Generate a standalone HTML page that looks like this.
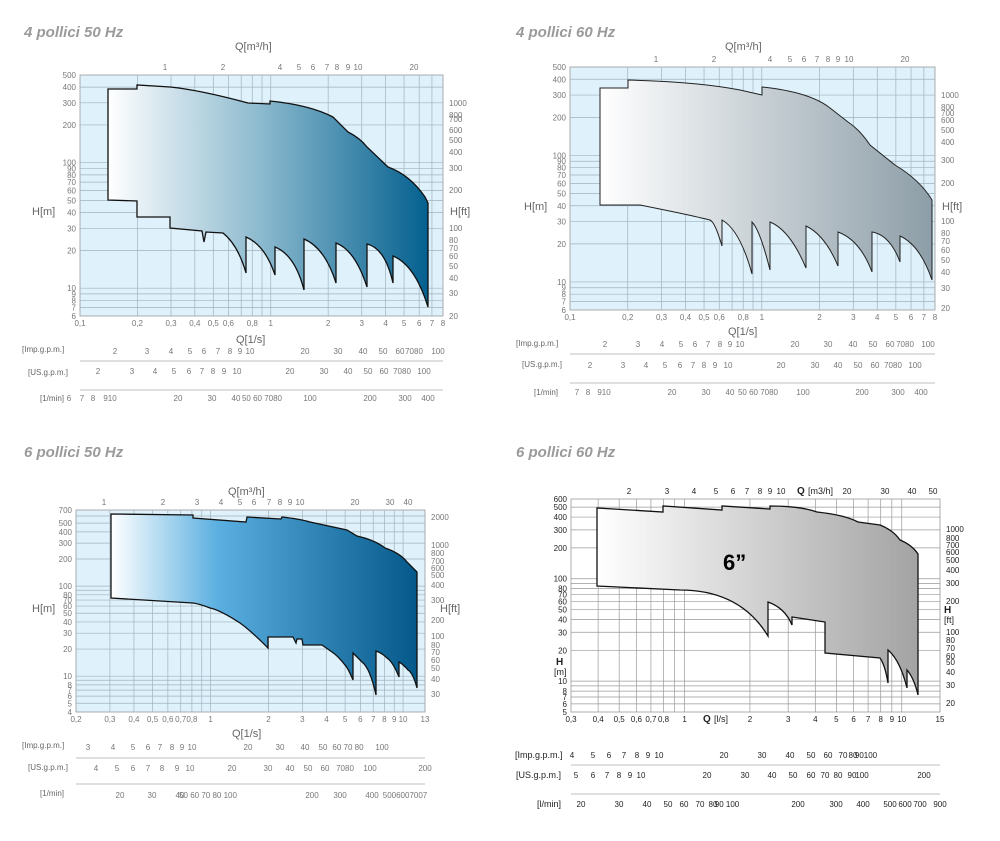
<!DOCTYPE html>
<html><head><meta charset="utf-8">
<style>
html,body{margin:0;padding:0;background:#fff;}
body{width:1000px;height:836px;overflow:hidden;font-family:"Liberation Sans",sans-serif;}
svg text{font-family:"Liberation Sans",sans-serif;}
</style></head>
<body>
<svg id="s" width="1000" height="836" viewBox="0 0 1000 836" xmlns="http://www.w3.org/2000/svg">
<defs>
<linearGradient id="gTL" x1="0" x2="1"><stop offset="0" stop-color="#ffffff"/><stop offset="0.5" stop-color="#86b6cc"/><stop offset="1" stop-color="#04608f"/></linearGradient>
<linearGradient id="gTR" x1="0" x2="1"><stop offset="0" stop-color="#ffffff"/><stop offset="1" stop-color="#8d9ea8"/></linearGradient>
<linearGradient id="gBL" x1="0" x2="1"><stop offset="0" stop-color="#ffffff"/><stop offset="0.35" stop-color="#5aafe0"/><stop offset="1" stop-color="#04598a"/></linearGradient>
<linearGradient id="gBR" x1="0" x2="1"><stop offset="0" stop-color="#ffffff"/><stop offset="1" stop-color="#a3a3a3"/></linearGradient>
</defs>
<g font-style="italic" font-weight="bold" font-size="15" fill="#9a9a9a">
<text x="24" y="37">4 pollici 50 Hz</text>
<text x="516" y="37">4 pollici 60 Hz</text>
<text x="24" y="457">6 pollici 50 Hz</text>
<text x="516" y="457">6 pollici 60 Hz</text>
</g>
<rect x="80" y="75" width="363" height="241" fill="#dff1fb" stroke="#999" stroke-width="0.8"/>
<rect x="570" y="67" width="365" height="243" fill="#dff1fb" stroke="#999" stroke-width="0.8"/>
<rect x="76" y="510" width="349" height="202" fill="#dff1fb" stroke="#999" stroke-width="0.8"/>
<rect x="571" y="499" width="369" height="213" fill="#fff" stroke="#999" stroke-width="0.8"/>
<g id="grid"></g>
<path d="M108,89 L137,89 L137,85 L170,87 Q200,90 248,103 L270,104 L270,101 Q310,105 333,117 L348,132 Q360,138 367,147 L388,167 Q410,175 425,197 L428,203 L428,307 Q415,265 393,256 L393,283 Q385,248 367,244 L367,287 Q355,250 336,243 L336,283 Q325,248 304,239 L304,290 Q295,255 275,247 L275,275 Q265,245 246,237 L246,273 Q238,245 223,233 L206,232 L204,242 L202,231 L170,228 L170,217 L137,217 L137,201 L108,200 Z" fill="url(#gTL)" stroke="#111" stroke-width="1.3"/>
<path d="M600,88 L628,88 L628,80 Q700,82 740,90 L762,95 L762,87 Q810,92 830,108 L848,122 Q860,130 870,145 L895,165 Q920,180 932,200 L932,280 Q920,245 900,236 L900,262 Q890,235 872,232 L872,272 Q860,240 838,232 L838,266 Q825,235 806,226 L806,268 Q790,230 770,222 L770,270 Q760,230 752,222 L752,274 Q740,230 722,220 L722,246 Q715,222 710,220 Q690,215 640,205 L600,205 L600,188 Z" fill="url(#gTR)" stroke="#222" stroke-width="1"/>
<path d="M111,514 L193,515 L193,518 Q220,520 246,522 L247,517 L281,519 L282,517 Q300,519 310,522 L347,530 L357,536 Q375,540 385,548 Q400,553 407,562 L417,572 L417,688 Q413,673 408,670 Q403,664 399,662 L399,677 Q393,662 387,658 Q382,653 376,651 L376,695 Q370,668 362,662 L353,653 L353,680 Q348,668 345,665 Q338,656 332,652 L322,645 L303,645 L302,639 L297,639 L296,643 L293,637 L268,637 L268,648 Q250,630 240,623 Q220,610 210,608 Q200,604 193,603 L111,598 Z" fill="url(#gBL)" stroke="#111" stroke-width="1.3"/>
<path d="M597,508 L663,512 L663,506 L722,510 L722,506 L770,509 L770,506 Q800,506 817,512 Q845,515 858,522 L880,525 Q893,530 900,540 Q912,545 918,554 L918,695 Q914,678 907,670 L907,688 Q900,660 888,650 L888,683 Q885,665 880,658 L825,653 L825,622 L792,617 L792,625 Q785,608 768,602 L768,636 Q740,590 680,590 L597,586 Z" fill="url(#gBR)" stroke="#111" stroke-width="1.3"/>
<text x="723" y="570" font-size="22" font-weight="bold" fill="#000">6”</text>
<g font-size="11" fill="#666">
<text x="235" y="50">Q[m³/h]</text>
<text x="236" y="343">Q[1/s]</text>
<text x="32" y="215">H[m]</text>
<text x="450" y="215">H[ft]</text>
<text x="725" y="50">Q[m³/h]</text>
<text x="728" y="335">Q[1/s]</text>
<text x="524" y="210">H[m]</text>
<text x="942" y="210">H[ft]</text>
<text x="228" y="495">Q[m³/h]</text>
<text x="232" y="737">Q[1/s]</text>
<text x="32" y="612">H[m]</text>
<text x="440" y="612">H[ft]</text>
</g>
<g font-size="9" fill="#222">
<text x="797" y="494" font-weight="bold" font-size="10">Q</text><text x="808" y="494">[m3/h]</text>
<text x="703" y="722" font-weight="bold" font-size="10">Q</text><text x="714" y="722">[l/s]</text>
<text x="556" y="665" font-weight="bold" font-size="10">H</text><text x="554" y="675">[m]</text>
<text x="944" y="613" font-weight="bold" font-size="10">H</text><text x="944" y="623">[ft]</text>
</g>
<g font-size="8" fill="#666">
<text x="22" y="352">[Imp.g.p.m.]</text><text x="28" y="375">[US.g.p.m.]</text><text x="40" y="401">[1/min]</text>
<text x="516" y="346">[Imp.g.p.m.]</text><text x="522" y="367">[US.g.p.m.]</text><text x="534" y="395">[1/min]</text>
<text x="22" y="748">[Imp.g.p.m.]</text><text x="28" y="770">[US.g.p.m.]</text><text x="40" y="796">[1/min]</text>
</g>
<g font-size="9" fill="#222">
<text x="515" y="758">[Imp.g.p.m.]</text><text x="516" y="778">[US.g.p.m.]</text><text x="537" y="807">[l/min]</text>
</g>
<g id="scales"></g>
</svg>
<script>
var NS="http://www.w3.org/2000/svg",G=document.getElementById('grid'),S=document.getElementById('scales');
function el(p,t,a,txt){var e=document.createElementNS(NS,t);for(var k in a)e.setAttribute(k,a[k]);if(txt!==undefined)e.textContent=txt;p.appendChild(e);return e;}
var L=Math.log10;
function chart(c){
 var xf=function(q){return c.x0+(L(q)-L(c.q0))/(L(c.q1)-L(c.q0))*(c.x1-c.x0);};
 var yf=function(h){return c.y1-(L(h)-L(c.h0))/(L(c.h1)-L(c.h0))*(c.y1-c.y0);};
 c.qs.forEach(function(q){var x=xf(q);el(G,'line',{x1:x,x2:x,y1:c.y0,y2:c.y1,stroke:c.gc,'stroke-width':0.7});});
 c.hs.forEach(function(h){var y=yf(h);el(G,'line',{x1:c.x0,x2:c.x1,y1:y,y2:y,stroke:c.gc,'stroke-width':0.7});});
 c.ql.forEach(function(q){el(S,'text',{x:xf(q),y:c.y1+10,'font-size':8,fill:c.tc,'text-anchor':'middle'},String(q).replace('.',','));});
 c.hl.forEach(function(h){el(S,'text',{x:c.x0-4,y:yf(h)+3,'font-size':8,fill:c.tc,'text-anchor':'end'},h);});
 c.top.forEach(function(t){el(S,'text',{x:t[0],y:c.y0-5,'font-size':8,fill:c.tc,'text-anchor':'middle'},t[1]);});
 c.ft.forEach(function(t){el(S,'text',{x:c.x1+6,y:t[0]+3,'font-size':8,fill:c.tc},t[1]);});
 c.rows.forEach(function(r){r.l.forEach(function(t){el(S,'text',{x:t[0],y:r.y,'font-size':8,fill:c.tc,'text-anchor':'middle'},t[1]);});});
 c.lines.forEach(function(y){el(S,'line',{x1:c.x0,x2:c.x1,y1:y,y2:y,stroke:'#aaa','stroke-width':0.8});});
}
chart({x0:80,x1:443,y0:75,y1:316,q0:0.1,q1:8,h0:6,h1:500,gc:'#9fb3bf',tc:'#777',
 qs:[0.2,0.3,0.4,0.5,0.6,0.7,0.8,0.9,1,2,3,4,5,6,7],hs:[7,8,9,10,20,30,40,50,60,70,80,90,100,200,300,400],
 ql:[0.1,0.2,0.3,0.4,0.5,0.6,0.8,1,2,3,4,5,6,7,8],hl:[6,7,8,9,10,20,30,40,50,60,70,80,90,100,200,300,400,500],
 top:[[165,'1'],[223,'2'],[280,'4'],[299,'5'],[313,'6'],[327,'7'],[337,'8'],[348,'9'],[358,'10'],[414,'20']],
 ft:[[103,'1000'],[115,'800'],[119,'700'],[130,'600'],[140,'500'],[152,'400'],[168,'300'],[190,'200'],[228,'100'],[240,'80'],[248,'70'],[256,'60'],[266,'50'],[278,'40'],[293,'30'],[316,'20']],
 rows:[{y:354,l:[[115,'2'],[147,'3'],[171,'4'],[190,'5'],[204,'6'],[218,'7'],[230,'8'],[240,'9'],[250,'10'],[305,'20'],[338,'30'],[363,'40'],[383,'50'],[400,'60'],[414,'7080'],[438,'100']]},
 {y:374,l:[[98,'2'],[132,'3'],[155,'4'],[174,'5'],[189,'6'],[202,'7'],[213,'8'],[224,'9'],[237,'10'],[290,'20'],[324,'30'],[348,'40'],[368,'50'],[384,'60'],[402,'7080'],[424,'100']]},
 {y:401,l:[[69,'6'],[82,'7'],[93,'8'],[110,'910'],[178,'20'],[212,'30'],[236,'40'],[262,'50 60 7080'],[310,'100'],[370,'200'],[405,'300'],[428,'400']]}],
 lines:[361,390]});
chart({x0:570,x1:935,y0:67,y1:310,q0:0.1,q1:8,h0:6,h1:500,gc:'#9fb3bf',tc:'#777',
 qs:[0.2,0.3,0.4,0.5,0.6,0.7,0.8,0.9,1,2,3,4,5,6,7],hs:[7,8,9,10,20,30,40,50,60,70,80,90,100,200,300,400],
 ql:[0.1,0.2,0.3,0.4,0.5,0.6,0.8,1,2,3,4,5,6,7,8],hl:[6,7,8,9,10,20,30,40,50,60,70,80,90,100,200,300,400,500],
 top:[[656,'1'],[714,'2'],[770,'4'],[790,'5'],[804,'6'],[817,'7'],[828,'8'],[838,'9'],[849,'10'],[905,'20']],
 ft:[[95,'1000'],[107,'800'],[113,'700'],[120,'600'],[130,'500'],[142,'400'],[160,'300'],[183,'200'],[221,'100'],[233,'80'],[241,'70'],[250,'60'],[260,'50'],[272,'40'],[288,'30'],[308,'20']],
 rows:[{y:347,l:[[605,'2'],[638,'3'],[662,'4'],[681,'5'],[695,'6'],[708,'7'],[720,'8'],[730,'9'],[740,'10'],[795,'20'],[828,'30'],[853,'40'],[873,'50'],[890,'60'],[905,'7080'],[928,'100']]},
 {y:368,l:[[590,'2'],[623,'3'],[646,'4'],[665,'5'],[680,'6'],[693,'7'],[704,'8'],[715,'9'],[728,'10'],[781,'20'],[815,'30'],[838,'40'],[858,'50'],[875,'60'],[893,'7080'],[915,'100']]},
 {y:395,l:[[577,'7'],[588,'8'],[604,'910'],[672,'20'],[706,'30'],[730,'40'],[758,'50 60 7080'],[803,'100'],[862,'200'],[898,'300'],[921,'400']]}],
 lines:[354,383]});
chart({x0:76,x1:425,y0:510,y1:712,q0:0.2,q1:13,h0:4,h1:700,gc:'#9fb3bf',tc:'#777',
 qs:[0.3,0.4,0.5,0.6,0.7,0.8,0.9,1,2,3,4,5,6,7,8,9,10],hs:[5,6,7,8,9,10,20,30,40,50,60,70,80,90,100,200,300,400,500,600],
 ql:[0.2,0.3,0.4,0.5,0.6,0.7,0.8,1,2,3,4,5,6,7,8,9,10,13],hl:[4,5,6,7,8,10,20,30,40,50,60,70,80,100,200,300,400,500,700],
 top:[[104,'1'],[163,'2'],[197,'3'],[221,'4'],[240,'5'],[254,'6'],[269,'7'],[280,'8'],[290,'9'],[300,'10'],[355,'20'],[390,'30'],[408,'40']],
 ft:[[517,'2000'],[545,'1000'],[553,'800'],[561,'700'],[568,'600'],[575,'500'],[585,'400'],[600,'300'],[620,'200'],[636,'100'],[645,'80'],[652,'70'],[660,'60'],[668,'50'],[679,'40'],[694,'30']],
 rows:[{y:750,l:[[88,'3'],[113,'4'],[133,'5'],[148,'6'],[160,'7'],[172,'8'],[182,'9'],[192,'10'],[248,'20'],[280,'30'],[305,'40'],[323,'50'],[348,'60 70 80'],[382,'100']]},
 {y:771,l:[[96,'4'],[117,'5'],[133,'6'],[148,'7'],[162,'8'],[177,'9'],[190,'10'],[232,'20'],[268,'30'],[290,'40'],[308,'50'],[325,'60'],[345,'7080'],[370,'100'],[425,'200']]},
 {y:798,l:[[120,'20'],[152,'30'],[180,'40'],[208,'50 60 70 80 100'],[312,'200'],[340,'300'],[372,'400'],[405,'5006007007']]}],
 lines:[758,784]});
chart({x0:571,x1:940,y0:499,y1:712,q0:0.3,q1:15,h0:5,h1:600,gc:'#999',tc:'#222',
 qs:[0.4,0.5,0.6,0.7,0.8,0.9,1,2,3,4,5,6,7,8,9,10],hs:[6,7,8,9,10,20,30,40,50,60,70,80,90,100,200,300,400,500],
 ql:[0.3,0.4,0.5,0.6,0.7,0.8,1,2,3,4,5,6,7,8,9,10,15],hl:[5,6,7,8,10,20,30,40,50,60,70,80,100,200,300,400,500,600],
 top:[[629,'2'],[667,'3'],[694,'4'],[716,'5'],[733,'6'],[747,'7'],[760,'8'],[770,'9'],[781,'10'],[847,'20'],[885,'30'],[912,'40'],[933,'50']],
 ft:[[529,'1000'],[538,'800'],[545,'700'],[552,'600'],[560,'500'],[570,'400'],[583,'300'],[601,'200'],[632,'100'],[640,'80'],[648,'70'],[656,'60'],[662,'50'],[672,'40'],[685,'30'],[703,'20']],
 rows:[{y:758,l:[[572,'4'],[593,'5'],[609,'6'],[624,'7'],[637,'8'],[648,'9'],[659,'10'],[724,'20'],[762,'30'],[790,'40'],[811,'50'],[828,'60'],[843,'70'],[853,'80'],[866,'90100']]},
 {y:778,l:[[576,'5'],[593,'6'],[607,'7'],[619,'8'],[630,'9'],[641,'10'],[707,'20'],[745,'30'],[772,'40'],[793,'50'],[811,'60'],[825,'70'],[838,'80'],[852,'90'],[862,'100'],[924,'200']]},
 {y:807,l:[[581,'20'],[619,'30'],[647,'40'],[668,'50'],[684,'60'],[700,'70'],[713,'80'],[727,'90 100'],[798,'200'],[836,'300'],[863,'400'],[890,'500'],[905,'600'],[920,'700'],[940,'900']]}],
 lines:[765,794]});
</script>
</body></html>
